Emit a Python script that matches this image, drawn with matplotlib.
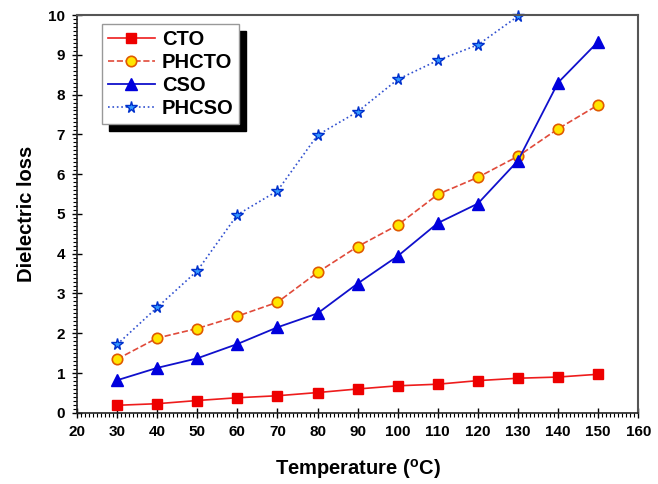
import matplotlib
matplotlib.use('Agg')
import matplotlib.pyplot as plt
from matplotlib.ticker import MultipleLocator

plt.rcParams['font.family'] = ['Liberation Sans', 'DejaVu Sans']
plt.rcParams['font.weight'] = 'bold'
plt.rcParams['mathtext.fontset'] = 'custom'
plt.rcParams['mathtext.rm'] = 'Liberation Sans:bold'
plt.rcParams['mathtext.bf'] = 'Liberation Sans:bold'

temperature = [30, 40, 50, 60, 70, 80, 90, 100, 110, 120, 130, 140, 150]
cto = [0.19, 0.23, 0.31, 0.38, 0.43, 0.51, 0.60, 0.68, 0.72, 0.81, 0.87, 0.90, 0.97]
phcto = [1.35, 1.88, 2.12, 2.43, 2.78, 3.53, 4.18, 4.72, 5.49, 5.92, 6.45, 7.14, 7.74]
cso = [0.82, 1.13, 1.37, 1.73, 2.15, 2.50, 3.25, 3.94, 4.77, 5.26, 6.34, 8.30, 9.33]
phcso_temp = [30, 40, 50, 60, 70, 80, 90, 100, 110, 120, 130]
phcso = [1.72, 2.65, 3.57, 4.98, 5.58, 6.98, 7.57, 8.38, 8.86, 9.25, 9.97]

fig = plt.figure(figsize=(6.58, 4.84), dpi=100)
ax = fig.add_axes([0.117, 0.147, 0.853, 0.822])

ax.plot(temperature, cto, '-', color='#ee1c1c', lw=1.2, marker='s', ms=6.5,
        mfc='#ee0000', mec='#ee0000', label='CTO')
ax.plot(temperature, phcto, '--', color='#e04a3a', lw=1.2, marker='o', ms=7.5,
        mfc='#ffe600', mec='#e05a00', mew=1.2, label='PHCTO')
ax.plot(temperature, cso, '-', color='#1010cc', lw=1.3, marker='^', ms=8,
        mfc='#0000dd', mec='#0000dd', label='CSO')
ax.plot(phcso_temp, phcso, ':', color='#3050d0', lw=1.2, marker='*', ms=8.5,
        mfc='#3399ff', mec='#0030cc', mew=1.0, label='PHCSO', clip_on=False)

ax.set_xlim(20, 160)
ax.set_ylim(0, 10)
ax.xaxis.set_major_locator(MultipleLocator(10))
ax.xaxis.set_minor_locator(MultipleLocator(1))
ax.yaxis.set_major_locator(MultipleLocator(1))
ax.yaxis.set_minor_locator(MultipleLocator(0.1))
ax.tick_params(which='major', direction='inout', length=7, width=1.0,
               labelsize=11, pad=5)
ax.tick_params(which='minor', direction='out', length=3, width=0.8)
for lab in ax.get_xticklabels() + ax.get_yticklabels():
    lab.set_fontweight('bold')

for side in ['left', 'bottom']:
    ax.spines[side].set_color('#222222')
    ax.spines[side].set_linewidth(1.2)
for side in ['top', 'right']:
    ax.spines[side].set_color('#555555')
    ax.spines[side].set_linewidth(1.5)

ax.set_xlabel(r'Temperature ($^{\mathrm{o}}$C)', fontsize=14.5, fontweight='bold', labelpad=13)
ax.set_ylabel('Dielectric loss', fontsize=14.5, fontweight='bold', labelpad=9)

# legend with solid black drop shadow
leg = ax.legend(loc='upper left', bbox_to_anchor=(0.045, 0.977), fontsize=14.5,
                frameon=True, fancybox=False, edgecolor='#999999',
                shadow={'ox': 5, 'oy': -5, 'color': 'black', 'alpha': 1.0},
                handlelength=2.3, borderpad=0.3, labelspacing=0.2,
                handletextpad=0.35, borderaxespad=0)
leg.get_frame().set_linewidth(1.0)
for t in leg.get_texts():
    t.set_fontweight('bold')

fig.savefig('out.png', dpi=100)
